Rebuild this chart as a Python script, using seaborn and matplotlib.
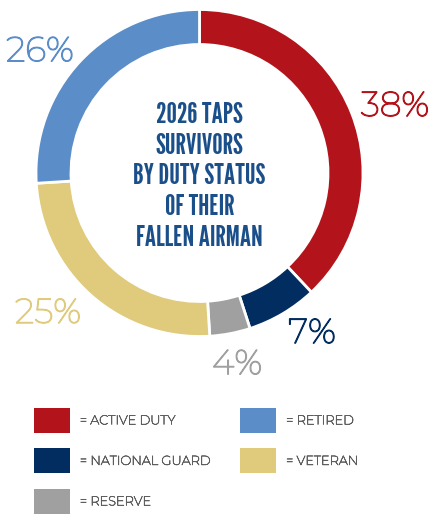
import numpy as np
import matplotlib.pyplot as plt
import matplotlib.patheffects as pe
import seaborn as sns
from matplotlib.patches import Patch

# data
statuses = ['ACTIVE DUTY', 'NATIONAL GUARD', 'RESERVE', 'VETERAN', 'RETIRED']
shares = [38, 7, 4, 25, 26]
colors = ['#b3141b', '#022d60', '#a0a0a0', '#e0ca7c', '#5b8dc8']
# where each % label sits: distance from centre and angle shift off the wedge middle
label_dist = [1.266, 1.191, 1.185, 1.257, 1.232]
label_nudge = [-2.4, 4.7, 0.4, -6.1, 5.6]

title_lines = ['2026 TAPS', 'SURVIVORS', 'BY DUTY STATUS', 'OF THEIR', 'FALLEN AIRMAN']

sns.set_style("white")
W, H = 429, 514
fig = plt.figure(figsize=(W / 100, H / 100), dpi=100)

cx, cy, R = 199.5, 173, 163.5
ax = fig.add_axes([(cx - R) / W, 1 - (cy + R) / H, 2 * R / W, 2 * R / H])
wedges, _ = ax.pie(shares, colors=colors, startangle=90, counterclock=False,
                   wedgeprops=dict(width=35 / R, edgecolor='white', linewidth=2))
ax.set_xlim(-1, 1)
ax.set_ylim(-1, 1)
ax.axis('off')

for w, s, d, n, c in zip(wedges, shares, label_dist, label_nudge, colors):
    a = np.deg2rad((w.theta1 + w.theta2) / 2 + n)
    ax.text(d * np.cos(a), d * np.sin(a) - 0.012, f'{s}%', color=c, fontsize=25,
            family='Montserrat', fontweight=400, ha='center', va='center', clip_on=False,
            path_effects=[pe.withStroke(linewidth=0.9, foreground=c)])

ax.text(0, -0.02, '\n'.join(title_lines), ha='center', va='center',
        color='#1a4f8a', fontsize=21, family=['League Gothic', 'DejaVu Sans'],
        linespacing=1.22)

order = [0, 1, 2, 4, 3]
handles = [Patch(facecolor=colors[i], edgecolor='none') for i in order]
labels = ['= ' + statuses[i] for i in order]
leg = fig.legend(handles, labels, loc='upper left', bbox_to_anchor=(34 / W, 1 - 408 / H),
                 ncol=2, frameon=False, borderpad=0, borderaxespad=0,
                 handlelength=2.75, handleheight=2.6, handletextpad=0.8,
                 labelspacing=1.2, columnspacing=2.3,
                 prop=dict(family='Montserrat', size=9.3, weight=400),
                 labelcolor='#5e5e5e')
for t in leg.get_texts():
    t.set_path_effects([pe.withStroke(linewidth=0.5, foreground='#5e5e5e')])

fig.savefig('out.png', dpi=100)
